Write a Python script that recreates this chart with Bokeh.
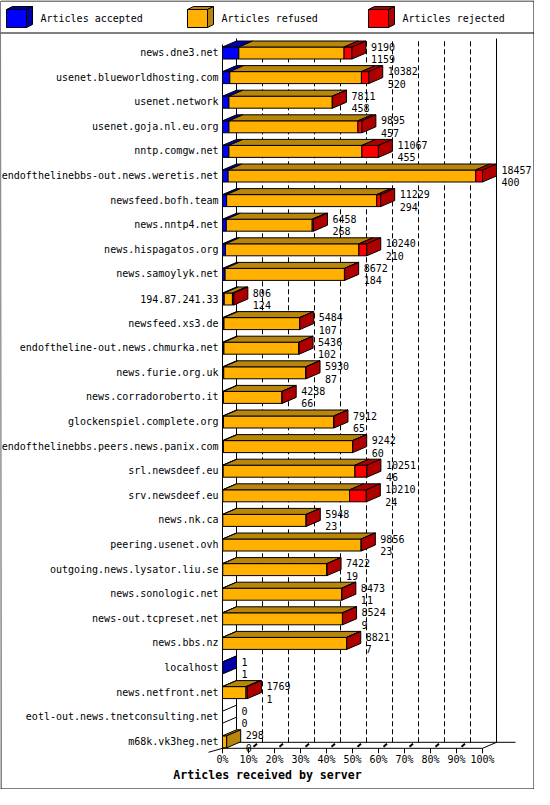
from bokeh.plotting import figure
from bokeh.models import Range1d
from bokeh.core.properties import value
from bokeh.embed import file_html
from bokeh.resources import INLINE

# ---------------- data ----------------
servers = [
    "news.dne3.net", "usenet.blueworldhosting.com", "usenet.network",
    "usenet.goja.nl.eu.org", "nntp.comgw.net", "endofthelinebbs-out.news.weretis.net",
    "newsfeed.bofh.team", "news.nntp4.net", "news.hispagatos.org",
    "news.samoylyk.net", "194.87.241.33", "newsfeed.xs3.de",
    "endoftheline-out.news.chmurka.net", "news.furie.org.uk", "news.corradoroberto.it",
    "glockenspiel.complete.org", "endofthelinebbs.peers.news.panix.com", "srl.newsdeef.eu",
    "srv.newsdeef.eu", "news.nk.ca", "peering.usenet.ovh",
    "outgoing.news.lysator.liu.se", "news.sonologic.net", "news-out.tcpreset.net",
    "news.bbs.nz", "localhost", "news.netfront.net",
    "eotl-out.news.tnetconsulting.net", "m68k.vk3heg.net",
]
received = [9190, 10382, 7811, 9895, 11067, 18457, 11229, 6458, 10240, 8672,
            806, 5484, 5436, 5930, 4238, 7912, 9242, 10251, 10210, 5948,
            9856, 7422, 8473, 8524, 8821, 1, 1769, 0, 298]
accepted = [1159, 520, 458, 457, 455, 400, 294, 268, 210, 184,
            124, 107, 102, 87, 66, 65, 60, 46, 24, 23,
            23, 19, 11, 9, 7, 1, 1, 0, 0]
refused = [7471, 9342, 7333, 9158, 9442, 17577, 10655, 6100, 9470, 8473,
           582, 5367, 5324, 5833, 4162, 7835, 9172, 9355, 8996, 5915,
           9821, 7393, 8452, 8505, 8802, 0, 1668, 0, 298]
rejected = [560, 520, 20, 280, 1170, 480, 280, 90, 560, 15,
            100, 10, 10, 10, 10, 12, 10, 850, 1190, 10,
            12, 10, 10, 10, 12, 0, 100, 0, 0]
series_names = ["Articles accepted", "Articles refused", "Articles rejected"]
x_ticks = [0, 10, 20, 30, 40, 50, 60, 70, 80, 90, 100]
x_tick_labels = ["0%", "10%", "20%", "30%", "40%", "50%", "60%", "70%", "80%", "90%", "100%"]
x_title = "Articles received by server"

# ---------------- style / layout ----------------
front_colors = ["#0000FF", "#FFB000", "#FF0000"]
dark_colors = ["#0000A8", "#B8860B", "#AF0000"]
FONT = value("DejaVu Sans Mono")
W, H = 534, 789
X0 = 222.0          # pixel of 0 %
PPX = 2.6           # pixels per percent
ROW0 = 52.0         # pixel of first row centre
STEP = 24.6         # pixels per row
n = len(servers)
max_total = max(received)


def xo(px):  # pixel offset -> x data units
    return px / PPX


def yo(px):  # pixel offset -> y data units
    return px / STEP


def fx(px):  # absolute canvas pixel -> x data
    return (px - X0) / PPX


def fy(py):  # absolute canvas pixel (from top) -> y data
    return (n - 1) - (py - ROW0) / STEP


p = figure(width=W, height=H, title=None,
           x_range=Range1d(fx(0), fx(W)), y_range=Range1d(fy(H), fy(0)),
           x_axis_type=None, y_axis_type=None,
           toolbar_location=None, output_backend="svg", min_border=0)
p.outline_line_color = None
p.xgrid.visible = False
p.ygrid.visible = False
p.background_fill_color = "white"
p.border_fill_color = "white"

DX = xo(14)
DY = yo(6)
FU = yo(5.5)
FD = yo(6.5)
row_y = [n - 1 - i for i in range(n)]
wall_top = (n - 1) + yo(14)
floor_y = -yo(7)
floor_back = floor_y + DY

# ---- back walls / grid ----
grid_x = [t + DX for t in x_ticks[1:-1]]
p.segment(x0=grid_x, y0=[floor_back] * len(grid_x), x1=grid_x, y1=[wall_top] * len(grid_x),
          line_color="black", line_width=1, line_dash="5 3")
p.segment(x0=[DX, 100 + DX, 0], y0=[floor_back, floor_back, floor_y],
          x1=[DX, 100 + DX, 0], y1=[wall_top, wall_top, wall_top - DY],
          line_color="black", line_width=1)
# floor
p.segment(x0=[0, DX, 0, 100, -DX],
          y0=[floor_y, floor_back, floor_y, floor_y, floor_y - yo(4)],
          x1=[100, 100 + DX + xo(19), DX, 100 + DX, 0],
          y1=[floor_y, floor_back, floor_back, floor_back, floor_y],
          line_color="black", line_width=1)
p.segment(x0=x_ticks, y0=[floor_y] * len(x_ticks), x1=x_ticks, y1=[floor_y - yo(5)] * len(x_ticks),
          line_color="black", line_width=1)
bx = [t + xo(5) for t in x_ticks[1:-1]]
p.segment(x0=bx, y0=[floor_y + yo(1.5)] * len(bx), x1=[b + xo(3.5) for b in bx],
          y1=[floor_y + yo(4.5)] * len(bx), line_color="black", line_width=2)
p.text(x=x_ticks, y=[floor_y - yo(11.5)] * len(x_ticks), text=x_tick_labels,
       text_font=FONT, text_font_size="10px", text_align="center", text_baseline="middle",
       text_color="black")
p.text(x=[fx(W / 2)], y=[floor_y - yo(26.5)], text=[x_title], text_font=FONT,
       text_font_size="11.6px", text_font_style="bold", text_align="center",
       text_baseline="middle", text_color="black")

# ---- bars ----
fl, fr, ft, fb, fc = [], [], [], [], []
pxs, pys, pc = [], [], []
for i in range(n):
    y = row_y[i]
    vals = [accepted[i], refused[i], rejected[i]]
    left = 0.0
    last_k = None
    for k in range(3):
        if vals[k] == 0:
            continue
        right = left + vals[k] / max_total * 100
        fl.append(left); fr.append(right); ft.append(y + FU); fb.append(y - FD)
        fc.append(front_colors[k])
        pxs.append([left, right, right + DX, left + DX])
        pys.append([y + FU, y + FU, y + FU + DY, y + FU + DY])
        pc.append(dark_colors[k])
        last_k = k
        left = right
    sc = dark_colors[last_k] if last_k is not None else "white"
    pxs.append([left, left, left + DX, left + DX])
    pys.append([y + FU, y - FD, y - FD + DY, y + FU + DY])
    pc.append(sc)

p.quad(left=fl, right=fr, top=ft, bottom=fb, fill_color=fc, line_color="black", line_width=1)
p.patches(xs=pxs, ys=pys, fill_color=pc, line_color="black", line_width=1)

# value labels
lab_x = [r / max_total * 100 + DX + xo(5) for r in received]
p.text(x=lab_x, y=[y + yo(6) for y in row_y], text=[str(v) for v in received],
       text_font=FONT, text_font_size="10px", text_align="left", text_baseline="middle",
       text_color="black")
p.text(x=lab_x, y=[y - yo(6.5) for y in row_y], text=[str(v) for v in accepted],
       text_font=FONT, text_font_size="10px", text_align="left", text_baseline="middle",
       text_color="black")
# category labels
p.text(x=[fx(218)] * n, y=row_y, text=servers, text_font=FONT, text_font_size="10px",
       text_align="right", text_baseline="middle", text_color="black")

# ---- legend ----
leg_x = [6, 187, 368]
lq_l, lq_r, lxs, lys, lcols = [], [], [], [], []
for k, lx in enumerate(leg_x):
    lq_l.append(fx(lx)); lq_r.append(fx(lx + 20))
    lxs.append([fx(lx), fx(lx + 20), fx(lx + 26), fx(lx + 6)])
    lys.append([fy(9), fy(9), fy(6), fy(6)])
    lcols.append(dark_colors[k])
    lxs.append([fx(lx + 20), fx(lx + 20), fx(lx + 26), fx(lx + 26)])
    lys.append([fy(9), fy(27), fy(24), fy(6)])
    lcols.append(dark_colors[k])
p.quad(left=lq_l, right=lq_r, top=[fy(9)] * 3, bottom=[fy(27)] * 3, fill_color=front_colors,
       line_color="black", line_width=1)
p.patches(xs=lxs, ys=lys, fill_color=lcols, line_color="black", line_width=1)
p.text(x=[fx(lx + 34) for lx in leg_x], y=[fy(18)] * 3, text=series_names, text_font=FONT,
       text_font_size="10px", text_align="left", text_baseline="middle", text_color="black")

# ---- frame lines ----
p.segment(x0=[fx(0), fx(0.5), fx(0.5), fx(W - 0.5), fx(0)],
          y0=[fy(32.5), fy(0.5), fy(H - 0.5), fy(0.5), fy(0.5)],
          x1=[fx(W), fx(W - 0.5), fx(W - 0.5), fx(W - 0.5), fx(0.5) + 0],
          y1=[fy(32.5), fy(0.5), fy(H - 0.5), fy(H - 0.5), fy(H - 0.5)],
          line_color="black", line_width=1)

open("out.html", "w").write(file_html(p, INLINE))
